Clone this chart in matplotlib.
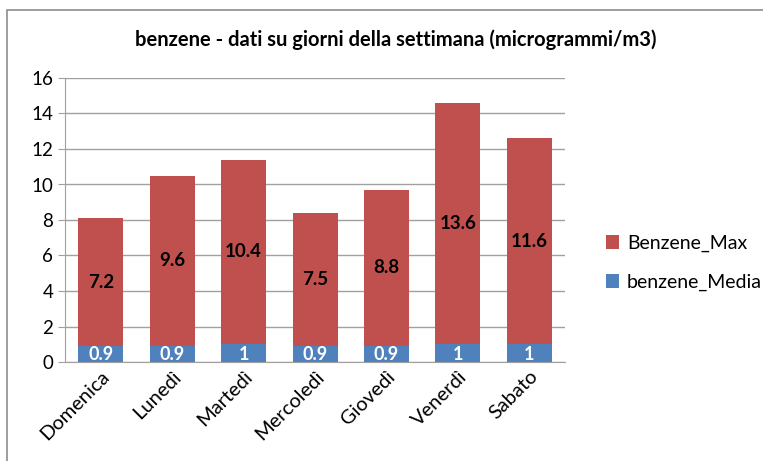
import matplotlib
matplotlib.use("Agg")
import matplotlib.pyplot as plt
from matplotlib.patches import Rectangle

plt.rcParams['font.family'] = ['Lato', 'DejaVu Sans']

days = ["Domenica", "Lunedì", "Martedì", "Mercoledì", "Giovedì", "Venerdì", "Sabato"]
media = [0.9, 0.9, 1, 0.9, 0.9, 1, 1]
maxv = [7.2, 9.6, 10.4, 7.5, 8.8, 13.6, 11.6]
media_labels = ["0.9", "0.9", "1", "0.9", "0.9", "1", "1"]
max_labels = ["7.2", "9.6", "10.4", "7.5", "8.8", "13.6", "11.6"]

fig = plt.figure(figsize=(7.63, 4.61), dpi=100)
fig.patches.append(Rectangle((7/763, -0.05), 1.1, 1 - 10/461 + 0.05, transform=fig.transFigure,
                             fill=False, edgecolor="#8c8c8c", linewidth=1.2))
ax = fig.add_axes([65/763, 1 - 362/461, 500/763, (362 - 78)/461])

x = list(range(len(days)))
b1 = ax.bar(x, media, width=0.63, color="#4f81bd", label="benzene_Media", zorder=3)
b2 = ax.bar(x, maxv, width=0.63, bottom=media, color="#c0504d", label="Benzene_Max", zorder=3)

for i in x:
    ax.text(i, media[i] / 2 - 0.05, media_labels[i], ha="center", va="center", color="white",
            fontsize=13, fontweight="bold", zorder=4)
    ax.text(i, media[i] + maxv[i] / 2, max_labels[i], ha="center", va="center", color="black",
            fontsize=13.5, fontweight="bold", zorder=4)

ax.set_xlim(-0.5, len(days) - 0.5)
ax.set_ylim(0, 16)
ax.set_yticks(range(0, 17, 2))
ax.yaxis.grid(True, color="#a0a0a0", linewidth=1, zorder=0)
for s in ["top", "right"]:
    ax.spines[s].set_visible(False)
ax.spines["left"].set_color("#a0a0a0")
ax.spines["bottom"].set_color("#a0a0a0")
ax.tick_params(axis="y", colors="#a0a0a0", labelcolor="black", labelsize=13.5, length=5, direction="out")
ax.tick_params(axis="x", length=0, labelsize=14.5, pad=4)
ax.set_xticks(x)
ax.set_xticklabels(days, rotation=45, ha="right", rotation_mode="anchor")

fig.text(396/763, 1 - 40/461, "benzene - dati su giorni della settimana (microgrammi/m3)",
         ha="center", va="center", fontsize=14.5, fontweight="bold")

handles = [b2, b1]
leg = fig.legend(handles, ["Benzene_Max", "benzene_Media"], loc="center left",
                 bbox_to_anchor=(588/763, 1 - 263/461), frameon=False, fontsize=14,
                 handlelength=0.7, handleheight=0.7, labelspacing=1.1, handletextpad=0.4)

fig.savefig("out.png", dpi=100)
